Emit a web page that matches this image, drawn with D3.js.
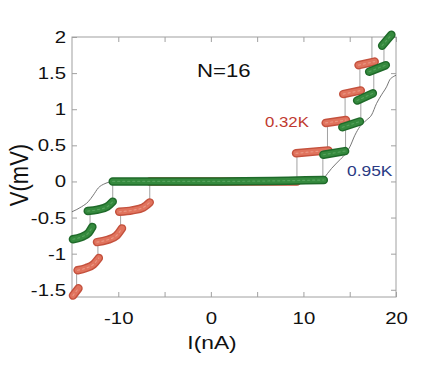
<!DOCTYPE html>
<html><head><meta charset="utf-8">
<script src="https://cdn.jsdelivr.net/npm/d3@7"></script>
<style>body{margin:0;background:#fff} svg{display:block}</style>
</head><body><svg id="c" width="436" height="367"></svg>
<script>
// ---- data ----
const xTicks = [-10, -5, 0, 5, 10, 15, 20];
const xLabels = [-10, 0, 10, 20];
const yTicks = [-1.5, -1, -0.5, 0, 0.5, 1, 1.5, 2];
const seriesNames = ["0.32K", "0.95K"];

// 0.32K branches [I(nA), V(mV)]
const redBranches = [
  [[-6.6, 0.0], [1.0, 0.0], [9.3, 0.0]],
  [[9.2, 0.39], [12.7, 0.43]],
  [[12.4, 0.81], [14.6, 0.85]],
  [[14.3, 1.21], [16.2, 1.26]],
  [[15.95, 1.61], [17.7, 1.66]],
  [[-9.9, -0.42], [-8.5, -0.40], [-7.3, -0.36], [-6.6, -0.29]],
  [[-12.3, -0.84], [-11.2, -0.81], [-10.2, -0.75], [-9.6, -0.65]],
  [[-14.4, -1.23], [-13.5, -1.20], [-12.7, -1.15], [-12.1, -1.06]],
  [[-14.9, -1.58], [-14.3, -1.48]]
];
// switching jumps [I, V from, V to]
const redJumps = [
  [-6.6, 0, -0.29], [-9.75, -0.42, -0.64], [-12.2, -0.84, -1.06], [-14.5, -1.23, -1.48],
  [9.3, 0, 0.39], [12.6, 0.43, 0.81], [14.5, 0.85, 1.21], [16.1, 1.26, 1.61], [17.4, 1.66, 2.0]
];

// 0.95K branches
const greenBranches = [
  [[-10.6, 0.0], [0.0, 0.0], [12.2, 0.02]],
  [[12.15, 0.37], [14.5, 0.42]],
  [[14.2, 0.75], [16.1, 0.83]],
  [[15.8, 1.12], [17.5, 1.22]],
  [[17.1, 1.52], [18.9, 1.61]],
  [[18.5, 1.88], [19.5, 2.03]],
  [[-13.3, -0.41], [-12.2, -0.39], [-11.2, -0.35], [-10.6, -0.28]],
  [[-14.9, -0.80], [-14.0, -0.77], [-13.2, -0.71], [-12.8, -0.63]]
];
const greenJumps = [
  [-10.6, 0, -0.28], [-13.05, -0.41, -0.63],
  [12.1, 0, 0.37], [14.55, 0.42, 0.77], [16.2, 0.83, 1.14], [17.6, 1.22, 1.54], [18.7, 1.61, 1.9]
];

// thin grey curve
const greyNeg = [[-15, -0.42], [-13.96, -0.35], [-13.24, -0.28], [-12.7, -0.19], [-12.16, -0.09], [-11.44, -0.03], [-10.54, 0.0]];
const greyPos = [[12.14, 0.03], [13.04, 0.18], [13.94, 0.30], [14.59, 0.39], [15.02, 0.48], [15.56, 0.64], [16.1, 0.76],
  [16.82, 0.85], [17.36, 0.92], [17.9, 1.08], [18.44, 1.20], [18.98, 1.31], [19.34, 1.41], [19.7, 1.45], [20, 1.47]];

// ---- drawing ----
const svg = d3.select("#c");
const FONT = "'Liberation Sans', Arial, Helvetica, sans-serif";
const SX = 1.2; // horizontal stretch of the text in the reference
const x = d3.scaleLinear().domain([-15, 20]).range([72, 396]);
const y = d3.scaleLinear().domain([-1.6, 2]).range([297, 37]);
const frameCol = "#a0a0a0";

// frame
svg.append("rect").attr("x", 72).attr("y", 37).attr("width", 324).attr("height", 260)
  .attr("fill", "none").attr("stroke", frameCol).attr("stroke-width", 1);

function styleAxis(g) {
  g.select(".domain").remove();
  g.selectAll("line").attr("stroke", frameCol);
}
const xb = svg.append("g").attr("transform", "translate(0,297)")
  .call(d3.axisBottom(x).tickValues(xTicks).tickSizeInner(-5).tickSizeOuter(0).tickPadding(15)
    .tickFormat(d => xLabels.includes(d) ? String(d) : ""));
styleAxis(xb);
svg.append("g").attr("transform", "translate(0,37)")
  .call(d3.axisTop(x).tickValues(xTicks).tickSizeInner(-5).tickSizeOuter(0).tickFormat(""))
  .call(styleAxis);
const yl = svg.append("g").attr("transform", "translate(72,0)")
  .call(d3.axisLeft(y).tickValues(yTicks).tickSizeInner(-5).tickSizeOuter(0).tickPadding(6)
    .tickFormat(d => String(d)));
styleAxis(yl);
svg.append("g").attr("transform", "translate(396,0)")
  .call(d3.axisRight(y).tickValues(yTicks).tickSizeInner(-5).tickSizeOuter(0).tickFormat(""))
  .call(styleAxis);

[xb, yl].forEach(g => g.selectAll("text")
  .attr("font-family", FONT).attr("font-size", 17).attr("fill", "#111"));
yl.selectAll("text").each(function () {
  const t = d3.select(this);
  t.attr("x", -6 / SX).attr("transform", `scale(${SX},1)`);
});
xb.selectAll("text").attr("transform", `scale(${SX},1)`);

// thin lines
const smooth = d3.line().x(d => x(d[0])).y(d => y(d[1])).curve(d3.curveMonotoneX);
const thin = svg.append("g").attr("fill", "none");
[greyNeg, greyPos].forEach(c => thin.append("path").attr("d", smooth(c))
  .attr("stroke", "#666").attr("stroke-width", 0.9));
[...redJumps, ...greenJumps].forEach(j => thin.append("line")
  .attr("x1", x(j[0])).attr("x2", x(j[0])).attr("y1", y(j[1])).attr("y2", y(j[2]))
  .attr("stroke", "#8a8a8a").attr("stroke-width", 0.8));

// thick marker bands
function bands(data, edge, fill, light) {
  const g = svg.append("g").attr("fill", "none").attr("stroke-linecap", "round").attr("stroke-linejoin", "round");
  data.forEach(b => {
    const d = smooth(b);
    g.append("path").attr("d", d).attr("stroke", edge).attr("stroke-width", 8.5);
    g.append("path").attr("d", d).attr("stroke", fill).attr("stroke-width", 5.6);
    g.append("path").attr("d", d).attr("stroke", light).attr("stroke-width", 1.2)
      .attr("stroke-dasharray", "2 3").attr("opacity", 0.55);
  });
}
bands(redBranches, "#c4513d", "#e0735d", "#f3b2a2");
bands(greenBranches, "#1f6a2a", "#358a3e", "#6fb574");

// texts
function txt(xp, yp, s, size, color, anchor, rot) {
  svg.append("text")
    .attr("transform", `translate(${xp},${yp}) scale(${SX},1)` + (rot ? ` rotate(${rot})` : ""))
    .attr("text-anchor", anchor || "start")
    .attr("font-family", FONT).attr("font-size", size).attr("fill", color).text(s);
}
txt(197, 77, "N=16", 18.5, "#111");
txt(265, 127, seriesNames[0], 14, "#c0392f");
txt(347, 176, seriesNames[1], 14.5, "#2a3a84");
txt(212, 349, "I(nA)", 19, "#111", "middle");
txt(28, 175, "V(mV)", 22, "#111", "middle", -90);
</script></body></html>
